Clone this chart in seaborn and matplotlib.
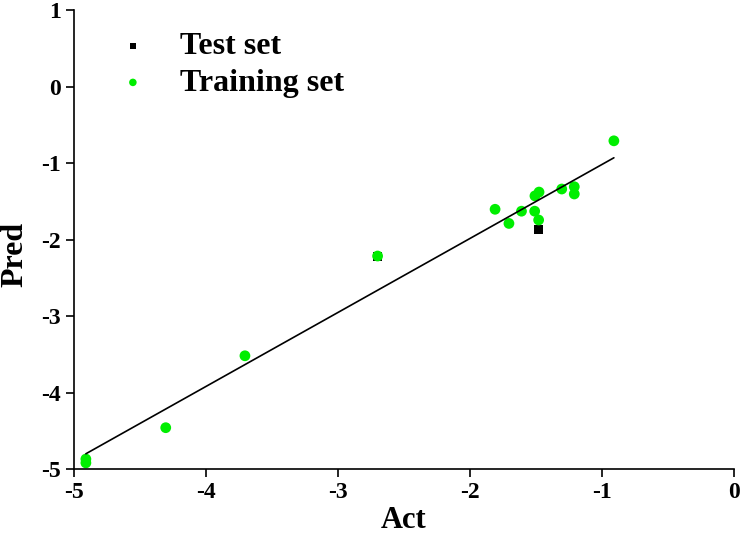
import numpy as np
import pandas as pd
import matplotlib
matplotlib.use('Agg')
import matplotlib.pyplot as plt
import seaborn as sns

# values
test_act = [-1.48, -2.70]
test_pred = [-1.87, -2.22]

train_act = [-0.91, -1.21, -1.21, -1.305, -1.477, -1.508, -1.61, -1.51, -1.48,
             -1.81, -1.705, -2.70, -3.705, -4.305, -4.91, -4.91]
train_pred = [-0.71, -1.31, -1.405, -1.34, -1.38, -1.43, -1.63, -1.63, -1.745,
              -1.605, -1.79, -2.216, -3.52, -4.46, -4.87, -4.92]

test = pd.DataFrame({'Act': test_act, 'Pred': test_pred})
train = pd.DataFrame({'Act': train_act, 'Pred': train_pred})
both = pd.concat([test, train], ignore_index=True)

sns.set_style('ticks', {'text.color': 'black', 'axes.labelcolor': 'black',
                        'xtick.color': 'black', 'ytick.color': 'black',
                        'axes.edgecolor': 'black'})
plt.rcParams['font.family'] = ['Liberation Serif', 'DejaVu Serif']
plt.rcParams['font.weight'] = 'bold'
plt.rcParams['axes.unicode_minus'] = False

fig = plt.figure(figsize=(7.4, 5.36), dpi=100)
ax = fig.add_axes([74 / 740, 1 - 469 / 536, 660 / 740, 459 / 536])

sns.regplot(x='Act', y='Pred', data=both, scatter=False, ci=None, truncate=True,
            color='black', line_kws={'linewidth': 1.2}, ax=ax)
sns.scatterplot(x='Act', y='Pred', data=test, marker='s', color='black', s=40,
                edgecolor='none', label='Test set', ax=ax)
sns.scatterplot(x='Act', y='Pred', data=train, marker='o', color='#00ee00', s=60,
                edgecolor='none', label='Training set', ax=ax)

ax.set_xlim(-5, 0)
ax.set_ylim(-5, 1)
ax.set_xticks(np.arange(-5, 1, 1))
ax.set_yticks(np.arange(-5, 2, 1))
ax.set_xlabel('Act', fontsize=22, fontweight='bold', labelpad=2)
ax.set_ylabel('Pred', fontsize=23, fontweight='bold')
ax.yaxis.set_label_coords(-0.068, 0.468)
ax.tick_params(labelsize=17, width=1.2, length=6, direction='out')
for lab in ax.get_xticklabels() + ax.get_yticklabels():
    lab.set_fontweight('bold')
for side in ['left', 'bottom']:
    ax.spines[side].set_linewidth(1.2)
sns.despine(ax=ax)

leg = ax.legend(loc='upper left', frameon=False, fontsize=23, markerscale=0.7,
                handlelength=1.0, handletextpad=0.97, borderpad=0, borderaxespad=0,
                bbox_to_anchor=(0.065, 0.952), labelspacing=0.22)
for t in leg.get_texts():
    t.set_fontweight('bold')

fig.savefig('out.png', dpi=100)
